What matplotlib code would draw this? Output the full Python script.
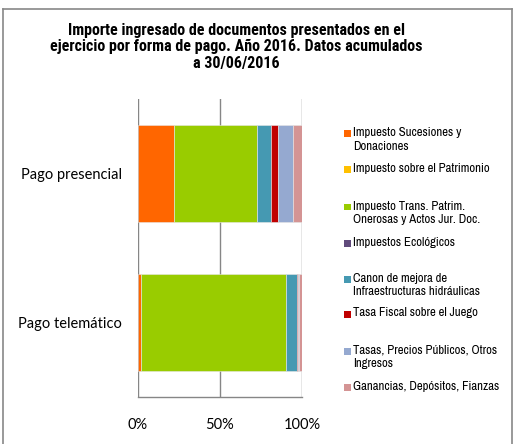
import matplotlib
matplotlib.use("Agg")
import matplotlib.pyplot as plt
from matplotlib.patches import Rectangle
from matplotlib.lines import Line2D
from matplotlib import font_manager

names = {f.name for f in font_manager.fontManager.ttflist}
def pick(*cands):
    for c in cands:
        if c in names:
            return c
    return "DejaVu Sans"
narrow = pick("Archivo Narrow", "PT Sans Narrow", "Roboto Condensed", "Liberation Sans Narrow", "Liberation Sans")
titlefont = pick("Roboto Condensed", "PT Sans Narrow", "Liberation Sans")
catfont = pick("Lato", "Open Sans")

categories = ["Pago presencial", "Pago telemático"]
series = [
    "Impuesto Sucesiones y\nDonaciones",
    "Impuesto sobre el Patrimonio",
    "Impuesto Trans. Patrim.\nOnerosas y Actos Jur. Doc.",
    "Impuestos Ecológicos",
    "Canon de mejora de\nInfraestructuras hidráulicas",
    "Tasa Fiscal sobre el Juego",
    "Tasas, Precios Públicos, Otros\nIngresos",
    "Ganancias, Depósitos, Fianzas",
]
presencial = [21.8, 0.2, 50.6, 0.1, 8.4, 4.1, 9.3, 5.5]
telematico = [1.6, 0.1, 88.6, 0.1, 6.5, 0.4, 0.8, 1.9]
colors = ["#FF6600", "#FFC000", "#99CC00", "#604A7B", "#4599B2", "#C00000", "#95A9D0", "#D49494"]
xticks = [0, 50, 100]
xticklabels = ["0%", "50%", "100%"]

W, H = 526, 444
fig = plt.figure(figsize=(W / 100, H / 100), dpi=100)

def fx(px):
    return px / W
def fy(py):
    return 1 - py / H

# outer frame
frame_kw = dict(transform=fig.transFigure, color="#888888", linewidth=1.2)
fig.add_artist(Line2D([fx(2.5), fx(2.5)], [fy(9), 0], **frame_kw))
fig.add_artist(Line2D([fx(511.5), fx(511.5)], [fy(9), 0], **frame_kw))
fig.add_artist(Line2D([fx(2.5), fx(511.5)], [fy(9), fy(9)], **frame_kw))

ax = fig.add_axes([fx(138), 47 / H, 164 / W, 298 / H])
ypos = [1, 0]
vals = [presencial, telematico]
for yi, row in zip(ypos, vals):
    left = 0
    for v, c in zip(row, colors):
        ax.barh(yi, v, left=left, height=0.645, color=c, edgecolor="#E6E6E6",
                linewidth=0.4, zorder=3)
        left += v

ax.set_xlim(0, 100)
ax.set_ylim(-0.5, 1.5)
ax.set_xticks(xticks)
ax.set_xticklabels(xticklabels)
ax.set_yticks(ypos)
ax.set_yticklabels(categories)
ax.tick_params(axis="both", length=0, labelsize=10.5, colors="black")
ax.tick_params(axis="x", pad=15)
ax.tick_params(axis="y", pad=11.5)
for lab in ax.get_xticklabels() + ax.get_yticklabels():
    lab.set_fontfamily(catfont)
ax.xaxis.grid(True, color="#868686", linewidth=1.0, zorder=0)
for s in ["top", "right", "left"]:
    ax.spines[s].set_visible(False)
ax.spines["bottom"].set_color("#868686")
ax.spines["bottom"].set_linewidth(1.0)

# title
fig.text(fx(236), fy(47),
         "Importe ingresado de documentos presentados en el\n"
         "ejercicio por forma de pago. Año 2016. Datos acumulados\n"
         "a 30/06/2016",
         ha="center", va="center", fontsize=11.5, fontweight="bold",
         family=[titlefont, "DejaVu Sans"], linespacing=1.15)

# legend (manual)
first_y = [134, 170, 207, 243, 279, 314, 351, 387]
for yy, lab, c in zip(first_y, series, colors):
    fig.patches.append(Rectangle((fx(344), fy(yy + 3.5)), 7 / W, 7 / H,
                                 transform=fig.transFigure, facecolor=c,
                                 edgecolor="none"))
    fig.text(fx(353), fy(yy - 6.5), lab, ha="left", va="top",
             fontsize=9.2, family=[narrow, "DejaVu Sans"], linespacing=1.3)

fig.savefig("out.png", dpi=100)
